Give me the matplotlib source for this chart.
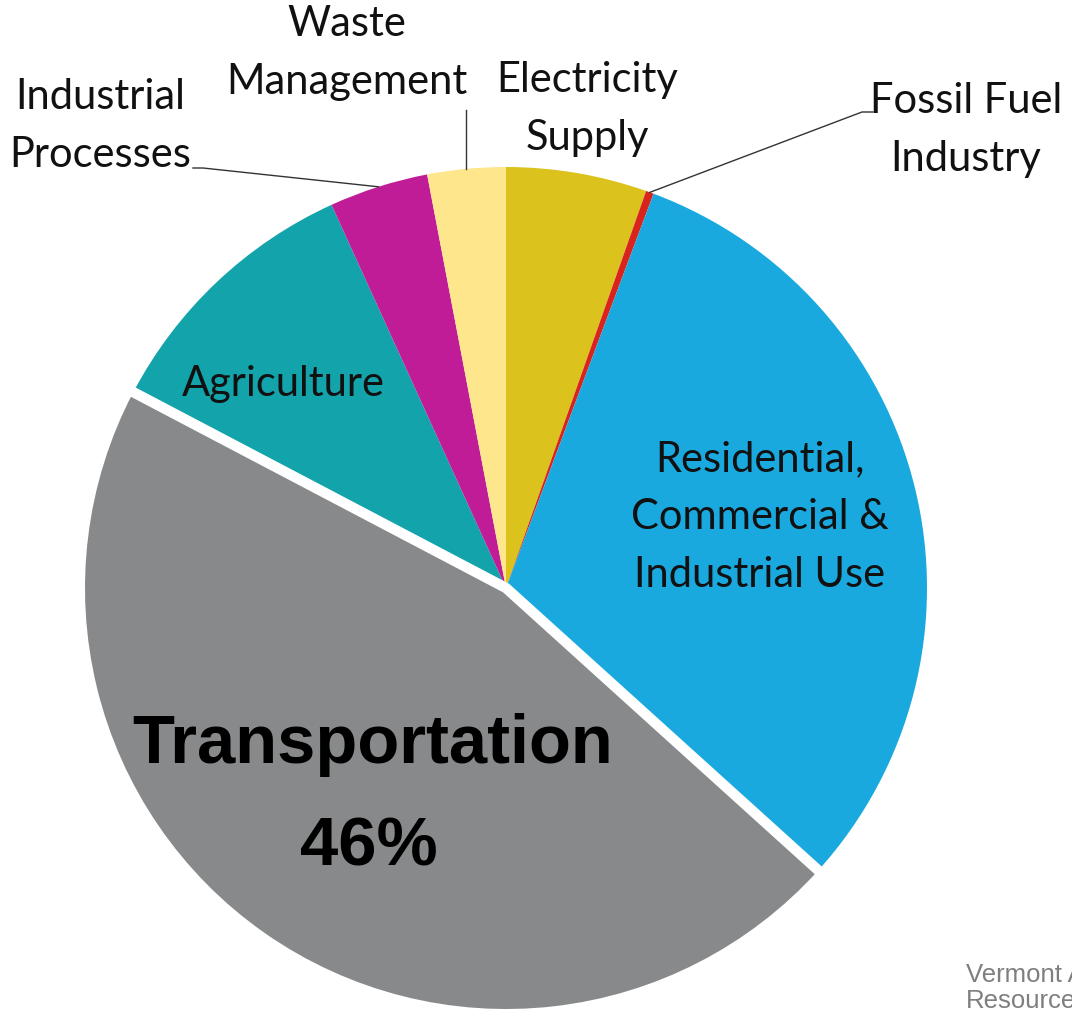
import matplotlib
matplotlib.use('Agg')
import numpy as np
import matplotlib.pyplot as plt

# emission shares by sector (percent), clockwise from 12 o'clock
sectors = ['Electricity Supply', 'Fossil Fuel Industry', 'Residential, Commercial & Industrial Use',
           'Transportation', 'Agriculture', 'Industrial Processes', 'Waste Management']
shares = [5.4, 0.3, 31.0, 46.0, 10.5, 3.8, 3.0]
colors = ['#dcc21c', '#d8241c', '#1aa9df', '#87898a', '#12a3ab', '#c01c98', '#fde68c']

W, H = 1072, 1016
cx, cy, R = 506, H - 588, 421

fig = plt.figure(figsize=(W / 100, H / 100), dpi=100)
ax = fig.add_axes([0, 0, 1, 1])

wedges, _ = ax.pie(shares, colors=colors, startangle=90, counterclock=False,
                   center=(cx, cy), radius=R, frame=True,
                   wedgeprops=dict(linewidth=0))

# white separators along the straight edges of the transportation slice
tw = wedges[sectors.index('Transportation')]
a1, a2 = np.deg2rad(tw.theta1), np.deg2rad(tw.theta2)
ax.plot([cx + (R + 5) * np.cos(a1), cx, cx + (R + 5) * np.cos(a2)],
        [cy + (R + 5) * np.sin(a1), cy, cy + (R + 5) * np.sin(a2)],
        color='white', lw=7.5, solid_joinstyle='round', solid_capstyle='butt', zorder=4)

ax.set_xlim(0, W)
ax.set_ylim(0, H)
ax.axis('off')


def rim(name):
    w = wedges[sectors.index(name)]
    a = np.deg2rad((w.theta1 + w.theta2) / 2)
    return cx + R * np.cos(a), cy + R * np.sin(a)


lab = dict(family='Lato', fontsize=30, color='#111111', ha='center', va='center',
           linespacing=1.64, zorder=10)

ax.text(347, H - 53, 'Waste\nManagement', **lab)
ax.text(100, H - 126, 'Industrial\nProcesses', **lab)
ax.text(587, H - 109, 'Electricity\nSupply', **lab)
ax.text(966, H - 130, 'Fossil Fuel\nIndustry', **lab)
ax.text(283, H - 384, 'Agriculture', **lab)
ax.text(760, H - 517, 'Residential,\nCommercial &\nIndustrial Use', **lab)

ax.text(373, H - 745, 'Transportation', family='Liberation Sans', fontweight='bold',
        fontsize=49.5, color='black', ha='center', va='center', zorder=10)
ax.text(369, H - 848, '%d%%' % shares[sectors.index('Transportation')], family='Liberation Sans',
        fontweight='bold', fontsize=49.5, color='black', ha='center', va='center', zorder=10)

# leader lines
lc = dict(color='#333333', lw=1.0, zorder=6)
x, y = rim('Waste Management')
ax.plot([x, x], [y, H - 110], **lc)
x, y = rim('Industrial Processes')
ax.plot([193, 203, x], [H - 168, H - 168, y], **lc)
x, y = rim('Fossil Fuel Industry')
ax.plot([x, 862, 873], [y, H - 112, H - 112], **lc)

ax.text(966, H - 988, 'Vermont Agency of Natural\nResources', family='Liberation Sans',
        fontsize=18.5, color='#7f7f7f', ha='left', va='center', linespacing=1.12)

fig.savefig('out.png', dpi=100)
